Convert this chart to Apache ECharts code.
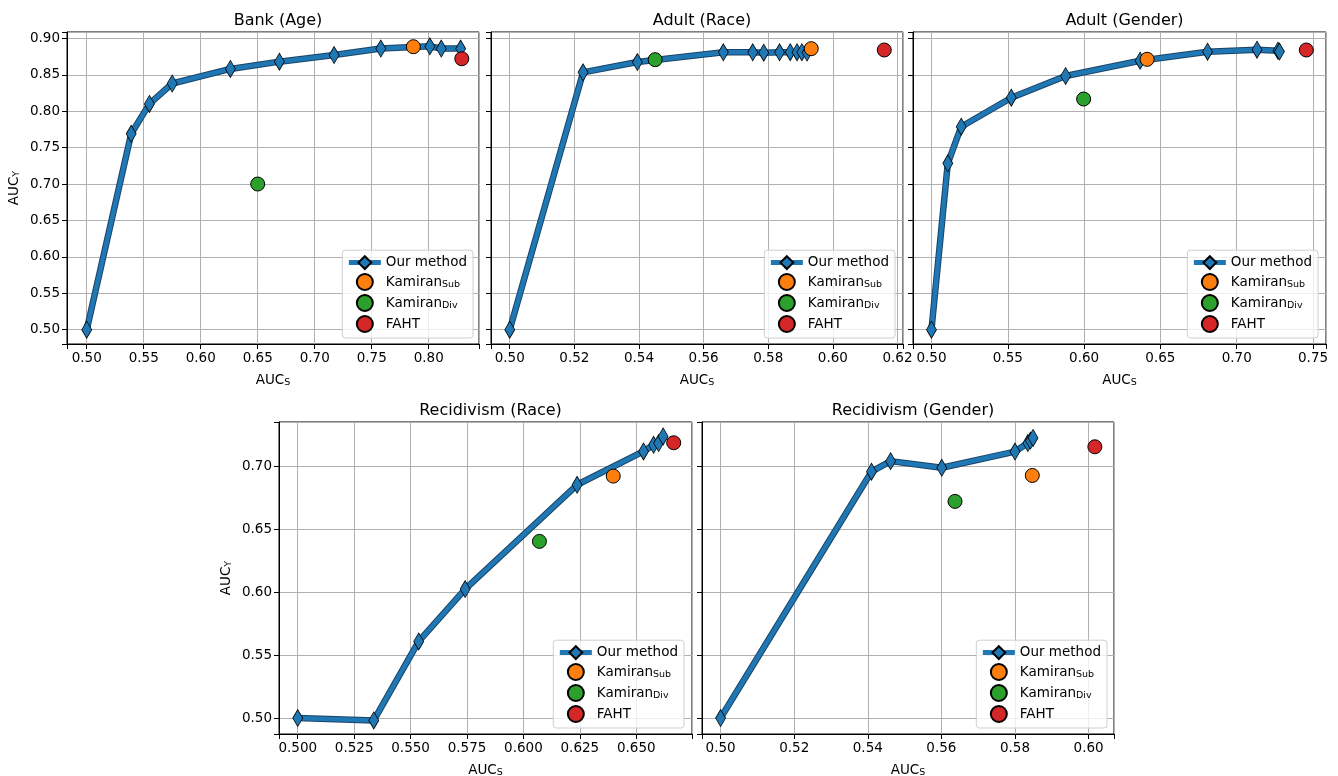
<!DOCTYPE html>
<html><head><meta charset="utf-8">
<script src="https://cdn.jsdelivr.net/npm/echarts@6/dist/echarts.min.js"></script>
<style>html,body{margin:0;padding:0;background:#fff}#c{width:1338px;height:776px}</style>
</head><body><div id="c"></div>
<script>
// ---------- DATA ----------
const legendNames = ['Our method', 'KamiranSub', 'KamiranDiv', 'FAHT'];

// Bank (Age)
const bankOurS = [0.500, 0.539, 0.555, 0.575, 0.626, 0.669, 0.717, 0.758, 0.801, 0.811, 0.828];
const bankOurY = [0.500, 0.769, 0.810, 0.838, 0.858, 0.868, 0.877, 0.886, 0.889, 0.886, 0.886];
const bankSub = [0.7865, 0.8885];
const bankDiv = [0.650, 0.700];
const bankFaht = [0.829, 0.872];

// Adult (Race)
const adultRaceOurS = [0.500, 0.5227, 0.5395, 0.5661, 0.5752, 0.5786, 0.5835, 0.5868, 0.5889, 0.5904, 0.5920];
const adultRaceOurY = [0.500, 0.8533, 0.8675, 0.8808, 0.8808, 0.8803, 0.8808, 0.8810, 0.8810, 0.8810, 0.8805];
const adultRaceSub = [0.5933, 0.8858];
const adultRaceDiv = [0.545, 0.8707];
const adultRaceFaht = [0.6159, 0.884];

// Adult (Gender)
const adultGenderOurS = [0.500, 0.5107, 0.5195, 0.5523, 0.5879, 0.6367, 0.6809, 0.7133, 0.7270, 0.7280];
const adultGenderOurY = [0.500, 0.7284, 0.7787, 0.8185, 0.8483, 0.8693, 0.8817, 0.8844, 0.8830, 0.8818];
const adultGenderSub = [0.6413, 0.8712];
const adultGenderDiv = [0.5997, 0.8167];
const adultGenderFaht = [0.7456, 0.884];

// Recidivism (Race)
const recRaceOurS = [0.500, 0.5337, 0.5536, 0.5742, 0.6238, 0.6532, 0.6577, 0.6599, 0.6619];
const recRaceOurY = [0.500, 0.4981, 0.5609, 0.6025, 0.6854, 0.7119, 0.7172, 0.7186, 0.7238];
const recRaceSub = [0.6398, 0.6923];
const recRaceDiv = [0.6071, 0.6404];
const recRaceFaht = [0.6666, 0.7188];

// Recidivism (Gender)
const recGenderOurS = [0.500, 0.5410, 0.5462, 0.5601, 0.5800, 0.5835, 0.5842, 0.5849];
const recGenderOurY = [0.500, 0.6958, 0.7042, 0.6989, 0.7118, 0.7186, 0.7205, 0.7226];
const recGenderSub = [0.5847, 0.6928];
const recGenderDiv = [0.5637, 0.6722];
const recGenderFaht = [0.6017, 0.7156];

// ---------- LAYOUT ----------
const FONT = 'DejaVu Sans';
const zip = (a, b) => a.map((v, i) => [v, b[i]]);

const panels = [
  {title: 'Bank (Age)', s: bankOurS, y: bankOurY, sub: bankSub, div: bankDiv, faht: bankFaht,
   grid: {left: 67, top: 32, width: 412, height: 312}, titleTop: 8,
   xr: {min: 0.4827, max: 0.8441, step: 0.05, dec: 2}, yr: {min: 0.4804, max: 0.9087, step: 0.05, dec: 2},
   yLabels: true, legend: {right: 865, bottom: 438}},
  {title: 'Adult (Race)', s: adultRaceOurS, y: adultRaceOurY, sub: adultRaceSub, div: adultRaceDiv, faht: adultRaceFaht,
   grid: {left: 491, top: 32, width: 412, height: 312}, titleTop: 8,
   xr: {min: 0.4942, max: 0.6217, step: 0.02, dec: 2}, yr: {min: 0.4804, max: 0.9087, step: 0.05, dec: 2},
   yLabels: false, legend: {right: 443, bottom: 438}},
  {title: 'Adult (Gender)', s: adultGenderOurS, y: adultGenderOurY, sub: adultGenderSub, div: adultGenderDiv, faht: adultGenderFaht,
   grid: {left: 913, top: 32, width: 413, height: 312}, titleTop: 8,
   xr: {min: 0.4879, max: 0.7585, step: 0.05, dec: 2}, yr: {min: 0.4804, max: 0.9087, step: 0.05, dec: 2},
   yLabels: false, legend: {right: 20, bottom: 438}},
  {title: 'Recidivism (Race)', s: recRaceOurS, y: recRaceOurY, sub: recRaceSub, div: recRaceDiv, faht: recRaceFaht,
   grid: {left: 279, top: 422, width: 413, height: 312}, titleTop: 398,
   xr: {min: 0.4917, max: 0.6747, step: 0.025, dec: 3}, yr: {min: 0.4873, max: 0.7353, step: 0.05, dec: 2},
   yLabels: true, legend: {right: 654, bottom: 48}},
  {title: 'Recidivism (Gender)', s: recGenderOurS, y: recGenderOurY, sub: recGenderSub, div: recGenderDiv, faht: recGenderFaht,
   grid: {left: 702, top: 422, width: 412, height: 312}, titleTop: 398,
   xr: {min: 0.49495, max: 0.6069, step: 0.02, dec: 2}, yr: {min: 0.4873, max: 0.7353, step: 0.05, dec: 2},
   yLabels: false, legend: {right: 231, bottom: 48}}
];

const tickFmt = (step, dec) => v => (Math.abs(v / step - Math.round(v / step)) < 1e-6 ? v.toFixed(dec) : '');
const subRich = {s: {fontFamily: FONT, fontSize: 9.5, color: '#000', padding: [6, 0, 0, 0]}};

const option = {
  animation: false,
  backgroundColor: '#fff',
  title: [], grid: [], xAxis: [], yAxis: [], legend: [], series: []
};

panels.forEach((p, i) => {
  option.title.push({
    text: p.title, left: p.grid.left + p.grid.width / 2, top: p.titleTop, textAlign: 'center',
    textStyle: {fontFamily: FONT, fontSize: 16, fontWeight: 'normal', color: '#000'}
  });
  option.grid.push(Object.assign({show: true, borderColor: '#000', borderWidth: 1, containLabel: false, outerBoundsMode: 'none'}, p.grid));
  const axisCommon = (r) => ({
    type: 'value', gridIndex: i, min: r.min, max: r.max,
    minInterval: r.step, maxInterval: r.step, splitNumber: Math.round((r.max - r.min) / r.step),
    axisLine: {show: true, onZero: false, lineStyle: {color: '#000', width: 1}},
    axisTick: {show: true, inside: false, length: 5, lineStyle: {color: '#000', width: 1}},
    splitLine: {show: true, lineStyle: {color: '#b0b0b0', width: 1}},
    axisLabel: {show: true, margin: 7, fontFamily: FONT, fontSize: 13.5, color: '#000', formatter: tickFmt(r.step, r.dec)}
  });
  const xa = axisCommon(p.xr);
  xa.name = 'AUC{s|S}';
  xa.nameLocation = 'middle';
  xa.nameGap = 28;
  xa.nameTextStyle = {fontFamily: FONT, fontSize: 13.5, color: '#000', rich: subRich};
  option.xAxis.push(xa);
  const ya = axisCommon(p.yr);
  if (p.yLabels) {
    ya.name = 'AUC{s|Y}';
    ya.nameLocation = 'middle';
    ya.nameRotate = 90;
    ya.nameGap = 45;
    ya.nameTextStyle = {fontFamily: FONT, fontSize: 13.5, color: '#000', rich: subRich};
  } else {
    ya.axisLabel.show = false;
  }
  option.yAxis.push(ya);

  option.legend.push({
    orient: 'vertical', right: p.legend.right, bottom: p.legend.bottom, data: legendNames,
    itemWidth: 32, itemHeight: 16, itemGap: 3, padding: [5, 6, 5, 4],
    backgroundColor: 'rgba(255,255,255,0.8)', borderColor: '#d0d0d0', borderWidth: 1, borderRadius: 3,
    selectedMode: false,
    lineStyle: {width: 5, color: '#1f77b4', cap: 'butt'},
    textStyle: {fontFamily: FONT, fontSize: 13.5, color: '#000', rich: subRich},
    formatter: n => n === 'KamiranSub' ? 'Kamiran{s|Sub}' : (n === 'KamiranDiv' ? 'Kamiran{s|Div}' : n)
  });

  const ourData = zip(p.s, p.y);
  option.series.push({
    name: 'outline' + i, type: 'line', xAxisIndex: i, yAxisIndex: i, data: ourData,
    symbol: 'none', silent: true, lineStyle: {color: '#1a4468', width: 6.5}, z: 2
  });
  option.series.push({
    name: 'Our method', type: 'line', xAxisIndex: i, yAxisIndex: i, data: ourData,
    symbol: 'diamond', symbolSize: [10, 17], showAllSymbol: true,
    itemStyle: {color: '#1f77b4', borderColor: '#000', borderWidth: 0.8},
    lineStyle: {color: '#1f77b4', width: 4.5}, z: 3
  });
  const sc = (name, color, pt) => ({
    name, type: 'scatter', xAxisIndex: i, yAxisIndex: i, data: [pt],
    symbol: 'circle', symbolSize: 14,
    itemStyle: {color, borderColor: '#000', borderWidth: 1, opacity: 1}, z: 4
  });
  option.series.push(sc('KamiranSub', '#ff7f0e', p.sub));
  option.series.push(sc('KamiranDiv', '#2ca02c', p.div));
  option.series.push(sc('FAHT', '#d62728', p.faht));
});

const chart = echarts.init(document.getElementById('c'), null, {renderer: 'canvas'});
chart.setOption(option);
</script></body></html>
